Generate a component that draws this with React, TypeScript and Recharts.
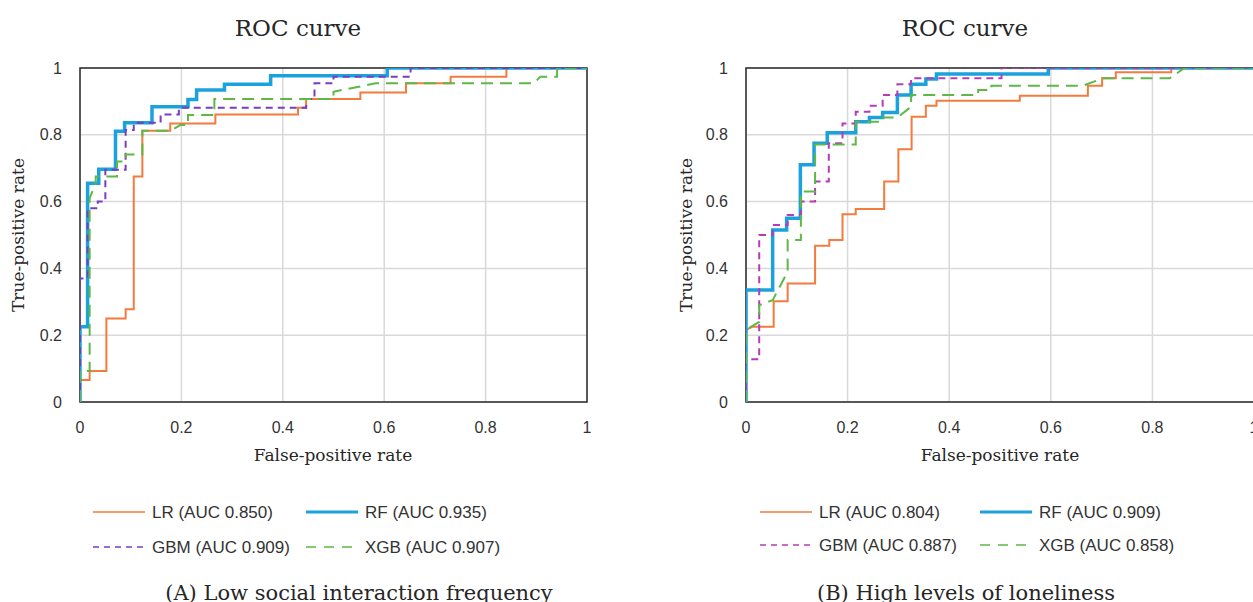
import React from 'react';
import { LineChart, Line, XAxis, YAxis, CartesianGrid, ReferenceArea } from 'recharts';

// ---------- data ----------
const TICKS = [0, 0.2, 0.4, 0.6, 0.8, 1];
const TICK_LABELS = ['0', '0.2', '0.4', '0.6', '0.8', '1'];
const MODEL_NAMES = ['LR', 'RF', 'GBM', 'XGB'];
const AUC_A = ['0.850', '0.935', '0.909', '0.907'];
const AUC_B = ['0.804', '0.909', '0.887', '0.858'];
const TITLE = 'ROC curve';
const X_TITLE = 'False-positive rate';
const Y_TITLE = 'True-positive rate';
const CAPTION_A = '(A) Low social interaction frequency';
const CAPTION_B = '(B) High levels of loneliness';

// Panel A: low social interaction frequency
const A_LR_FPR = [0, 0, 0.019, 0.019, 0.052, 0.052, 0.09, 0.09, 0.106, 0.106, 0.123, 0.123, 0.178, 0.178, 0.267, 0.267, 0.43, 0.43, 0.446, 0.446, 0.553, 0.553, 0.643, 0.643, 0.731, 0.731, 0.841, 0.841, 1];
const A_LR_TPR = [0, 0.066, 0.066, 0.093, 0.093, 0.25, 0.25, 0.278, 0.278, 0.675, 0.675, 0.812, 0.812, 0.834, 0.834, 0.861, 0.861, 0.881, 0.881, 0.907, 0.907, 0.927, 0.927, 0.954, 0.954, 0.974, 0.974, 1, 1];
const A_RF_FPR = [0, 0, 0.015, 0.015, 0.037, 0.037, 0.07, 0.07, 0.088, 0.088, 0.142, 0.142, 0.213, 0.213, 0.23, 0.23, 0.285, 0.285, 0.376, 0.376, 0.606, 0.606, 1];
const A_RF_TPR = [0, 0.225, 0.225, 0.655, 0.655, 0.697, 0.697, 0.811, 0.811, 0.836, 0.836, 0.884, 0.884, 0.906, 0.906, 0.934, 0.934, 0.951, 0.951, 0.977, 0.977, 1, 1];
const A_GBM_FPR = [0, 0, 0.015, 0.015, 0.035, 0.035, 0.05, 0.05, 0.09, 0.09, 0.106, 0.106, 0.159, 0.159, 0.195, 0.195, 0.446, 0.446, 0.4625, 0.4625, 0.5, 0.5, 0.652, 0.652, 1];
const A_GBM_TPR = [0, 0.37, 0.37, 0.58, 0.58, 0.6, 0.6, 0.695, 0.695, 0.814, 0.814, 0.836, 0.836, 0.861, 0.861, 0.881, 0.881, 0.907, 0.907, 0.954, 0.954, 0.974, 0.974, 1, 1];
const A_XGB_FPR = [0, 0, 0.019, 0.019, 0.031, 0.031, 0.073, 0.073, 0.09, 0.09, 0.123, 0.123, 0.178, 0.198, 0.213, 0.213, 0.265, 0.265, 0.5, 0.5, 0.583, 0.895, 0.908, 0.941, 0.941, 1];
const A_XGB_TPR = [0, 0.093, 0.093, 0.61, 0.655, 0.675, 0.675, 0.72, 0.72, 0.741, 0.741, 0.812, 0.812, 0.829, 0.829, 0.859, 0.859, 0.907, 0.907, 0.929, 0.954, 0.954, 0.974, 0.974, 1, 1];

// Panel B: high levels of loneliness
const B_LR_FPR = [0, 0, 0.012, 0.0545, 0.0545, 0.082, 0.082, 0.136, 0.136, 0.164, 0.164, 0.19, 0.19, 0.216, 0.216, 0.272, 0.272, 0.3, 0.3, 0.326, 0.326, 0.354, 0.354, 0.375, 0.375, 0.539, 0.539, 0.673, 0.673, 0.701, 0.701, 0.728, 0.728, 0.837, 0.837, 1];
const B_LR_TPR = [0, 0.216, 0.225, 0.225, 0.302, 0.302, 0.355, 0.355, 0.468, 0.468, 0.485, 0.485, 0.562, 0.562, 0.578, 0.578, 0.66, 0.66, 0.757, 0.757, 0.854, 0.854, 0.887, 0.887, 0.902, 0.902, 0.917, 0.917, 0.947, 0.947, 0.969, 0.969, 0.987, 0.987, 1, 1];
const B_RF_FPR = [0, 0, 0.0525, 0.0525, 0.08, 0.08, 0.107, 0.107, 0.134, 0.134, 0.16, 0.16, 0.216, 0.216, 0.243, 0.243, 0.269, 0.269, 0.298, 0.298, 0.325, 0.325, 0.354, 0.354, 0.375, 0.375, 0.595, 0.595, 1];
const B_RF_TPR = [0, 0.335, 0.335, 0.515, 0.515, 0.55, 0.55, 0.71, 0.71, 0.775, 0.775, 0.806, 0.806, 0.839, 0.839, 0.852, 0.852, 0.867, 0.867, 0.919, 0.919, 0.951, 0.951, 0.967, 0.967, 0.982, 0.982, 1, 1];
const B_GBM_FPR = [0, 0, 0.026, 0.026, 0.0525, 0.0525, 0.082, 0.082, 0.108, 0.108, 0.136, 0.136, 0.163, 0.163, 0.19, 0.19, 0.216, 0.216, 0.243, 0.243, 0.269, 0.269, 0.298, 0.298, 0.325, 0.325, 0.503, 0.503, 1];
const B_GBM_TPR = [0, 0.128, 0.128, 0.5, 0.5, 0.53, 0.53, 0.56, 0.56, 0.6, 0.6, 0.66, 0.66, 0.775, 0.775, 0.834, 0.834, 0.869, 0.869, 0.887, 0.887, 0.919, 0.919, 0.951, 0.951, 0.969, 0.969, 1, 1];
const B_XGB_FPR = [0, 0, 0.026, 0.026, 0.0525, 0.082, 0.082, 0.108, 0.108, 0.136, 0.136, 0.216, 0.216, 0.269, 0.269, 0.298, 0.325, 0.325, 0.457, 0.457, 0.483, 0.483, 0.663, 0.703, 0.834, 0.863, 1];
const B_XGB_TPR = [0, 0.216, 0.24, 0.29, 0.305, 0.39, 0.485, 0.485, 0.63, 0.63, 0.771, 0.771, 0.839, 0.839, 0.852, 0.852, 0.884, 0.919, 0.919, 0.934, 0.934, 0.947, 0.947, 0.969, 0.969, 1, 1];

// ---------- styles ----------
const COLORS_A = ['#F27B3D', '#1BA1DB', '#7B3DC0', '#5DB847'];
const COLORS_B = ['#F27B3D', '#1BA1DB', '#B43CB6', '#5DB847'];
const WIDTHS = [2, 3.5, 2, 2];
const DASHES = [undefined, undefined, '7 5', '12 7'];
const LEGEND_WIDTHS = [1.5, 3, 1.5, 1.5];
const LEGEND_DASHES = [undefined, undefined, '6 5', '10 8'];

const zip = (xs: number[], ys: number[]) => xs.map((x, i) => ({ x, y: ys[i] }));

const PANEL_A = [zip(A_LR_FPR, A_LR_TPR), zip(A_RF_FPR, A_RF_TPR), zip(A_GBM_FPR, A_GBM_TPR), zip(A_XGB_FPR, A_XGB_TPR)];
const PANEL_B = [zip(B_LR_FPR, B_LR_TPR), zip(B_RF_FPR, B_RF_TPR), zip(B_GBM_FPR, B_GBM_TPR), zip(B_XGB_FPR, B_XGB_TPR)];

const TICK_STYLE = { fontFamily: '"Liberation Sans", Arial, sans-serif', fontSize: 16, fill: '#333333' };
const SERIF = '"DejaVu Serif", serif';
const SANS = '"Liberation Sans", Arial, sans-serif';

const fmt = (v: number) => TICK_LABELS[TICKS.indexOf(v)] ?? String(v);

function Panel({ left, width, series, colors }: { left: number; width: number; series: { x: number; y: number }[][]; colors: string[] }) {
  return (
    <div style={{ position: 'absolute', left, top: 0 }}>
      <LineChart width={width} height={470} margin={{ top: 68, right: 34, bottom: 38, left: 40 }}>
        <CartesianGrid stroke="#D9D9D9" strokeWidth={1.5} />
        <XAxis
          type="number"
          dataKey="x"
          domain={[0, 1]}
          ticks={TICKS}
          tickFormatter={fmt}
          axisLine={false}
          tickLine={false}
          tickSize={6}
          tickMargin={14}
          height={30}
          tick={TICK_STYLE}
          allowDataOverflow
        />
        <YAxis
          type="number"
          dataKey="y"
          domain={[0, 1]}
          ticks={TICKS}
          tickFormatter={fmt}
          axisLine={false}
          tickLine={false}
          tickSize={6}
          tickMargin={12}
          width={40}
          tick={TICK_STYLE}
          allowDataOverflow
        />
        <ReferenceArea x1={0} x2={1} y1={0} y2={1} fill="none" stroke="#2B2B2B" strokeWidth={1.5} ifOverflow="visible" />
        {series.map((d, i) => (
          <Line
            key={MODEL_NAMES[i]}
            data={d}
            dataKey="y"
            type="linear"
            stroke={colors[i]}
            strokeWidth={WIDTHS[i]}
            strokeDasharray={DASHES[i]}
            dot={false}
            activeDot={false}
            isAnimationActive={false}
          />
        ))}
      </LineChart>
    </div>
  );
}

function Texts({ titleX, axisX, yLabelX, capX, caption, aucs, colors, legendX, col2X, rows, lineLen }: any) {
  return (
    <g>
      <text x={titleX} y={36} textAnchor="middle" fontFamily={SERIF} fontSize={23} fill="#262626">{TITLE}</text>
      <text x={axisX} y={461} textAnchor="middle" fontFamily={SERIF} fontSize={17} fill="#262626">{X_TITLE}</text>
      <text transform={`translate(${yLabelX},235) rotate(-90)`} textAnchor="middle" fontFamily={SERIF} fontSize={17} fill="#262626">{Y_TITLE}</text>
      {MODEL_NAMES.map((n, i) => {
        const lx = i % 2 === 0 ? legendX : col2X;
        const ry = rows[Math.floor(i / 2)];
        return (
          <g key={n}>
            <line x1={lx} x2={lx + lineLen} y1={ry} y2={ry} stroke={colors[i]} strokeWidth={LEGEND_WIDTHS[i]} strokeDasharray={LEGEND_DASHES[i]} />
            <text x={lx + lineLen + 7} y={ry + 6} fontFamily={SANS} fontSize={17} fill="#333333">{`${n} (AUC ${aucs[i]})`}</text>
          </g>
        );
      })}
      <text x={capX} y={600} textAnchor="middle" fontFamily={SERIF} fontSize={21} fill="#262626">{caption}</text>
    </g>
  );
}

export default function App() {
  return (
    <div style={{ position: 'absolute', left: 0, top: 0, width: 1253, height: 602, overflow: 'hidden', background: '#ffffff' }}>
      <Panel left={0} width={621} series={PANEL_A} colors={COLORS_A} />
      <Panel left={666} width={622} series={PANEL_B} colors={COLORS_B} />
      <svg width={1253} height={602} style={{ position: 'absolute', left: 0, top: 0, pointerEvents: 'none' }}>
        <Texts titleX={298} axisX={333} yLabelX={24} capX={359} caption={CAPTION_A} aucs={AUC_A} colors={COLORS_A}
          legendX={93} col2X={306} rows={[512, 547]} lineLen={52} />
        <Texts titleX={965} axisX={1000} yLabelX={692} capX={966} caption={CAPTION_B} aucs={AUC_B} colors={COLORS_B}
          legendX={760} col2X={980} rows={[512, 545]} lineLen={52} />
      </svg>
    </div>
  );
}
